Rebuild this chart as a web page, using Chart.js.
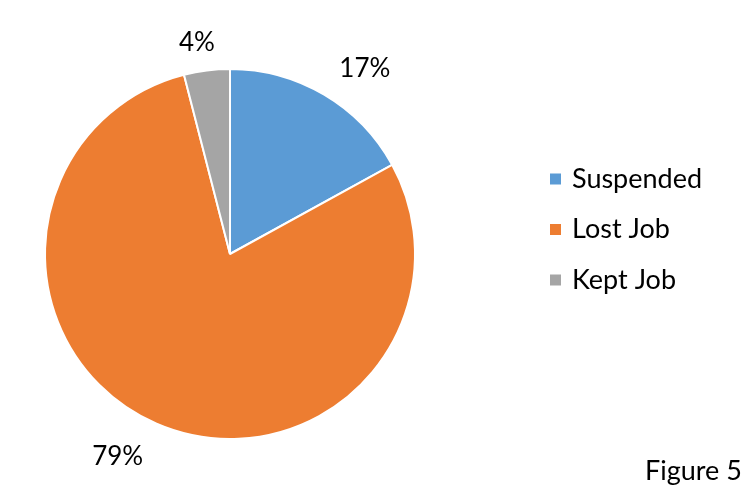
<!DOCTYPE html>
<html>
<head>
<meta charset="utf-8">
<script src="https://cdn.jsdelivr.net/npm/chart.js@4.4.1/dist/chart.umd.min.js"></script>
<style>
  html, body { margin: 0; padding: 0; background: #ffffff; }
  #wrap { width: 749px; height: 491px; }
</style>
</head>
<body>
<div id="wrap"><canvas id="pieChart" width="749" height="491"></canvas></div>
<script>
// Job outcome shares (percent)
const categories = ["Suspended", "Lost Job", "Kept Job"];
const shares = [17, 79, 4];
const sliceColors = ["#5B9BD5", "#ED7D31", "#A5A5A5"];
const figureCaption = "Figure 5";

const FONT = "Lato, 'Open Sans', sans-serif";

// Percent labels outside each slice, Excel "best fit" style
const outsideLabels = {
  id: "outsideLabels",
  afterDatasetsDraw(chart) {
    const ctx = chart.ctx;
    const meta = chart.getDatasetMeta(0);
    ctx.save();
    ctx.font = "26px " + FONT;
    ctx.fillStyle = "#000000";
    ctx.textAlign = "center";
    ctx.textBaseline = "middle";
    meta.data.forEach((arc, i) => {
      const p = arc.getProps(["x", "y", "startAngle", "endAngle", "outerRadius"], true);
      const mid = (p.startAngle + p.endAngle) / 2;
      const r = p.outerRadius + 14;
      const px = p.x + Math.cos(mid) * r;
      const py = p.y + Math.sin(mid) * r;
      const text = shares[i] + "%";
      const w = ctx.measureText(text).width;
      const clamp = (v) => Math.max(-1, Math.min(1, v));
      const cx = px + (w / 2 + 8) * clamp(Math.cos(mid) * 2.5);
      const dy = Math.sin(mid) < 0 ? 14 : 20;
      const cy = py + dy * clamp(Math.sin(mid) * 1.5);
      ctx.fillText(text, cx, cy);
    });
    ctx.restore();
  }
};

// Legend on the right plus the caption in the corner
const sideLegend = {
  id: "sideLegend",
  afterDraw(chart) {
    const ctx = chart.ctx;
    ctx.save();
    ctx.font = "27px " + FONT;
    ctx.textBaseline = "middle";
    ctx.textAlign = "left";
    const ds = chart.data.datasets[0];
    chart.data.labels.forEach((label, i) => {
      const y = 179 + i * 50.5;
      ctx.fillStyle = ds.backgroundColor[i];
      ctx.fillRect(550, y - 5.5, 11, 11);
      ctx.fillStyle = "#000000";
      ctx.fillText(label, 572, y);
    });
    ctx.fillText(figureCaption, 645, 471);
    ctx.restore();
  }
};

new Chart(document.getElementById("pieChart"), {
  type: "pie",
  data: {
    labels: categories,
    datasets: [{
      data: shares,
      backgroundColor: sliceColors,
      borderColor: "#ffffff",
      borderWidth: 2
    }]
  },
  options: {
    responsive: false,
    animation: false,
    layout: { padding: { top: 68, bottom: 51, left: 44, right: 333 } },
    plugins: {
      legend: { display: false },
      tooltip: { enabled: false }
    }
  },
  plugins: [outsideLabels, sideLegend]
});
</script>
</body>
</html>
